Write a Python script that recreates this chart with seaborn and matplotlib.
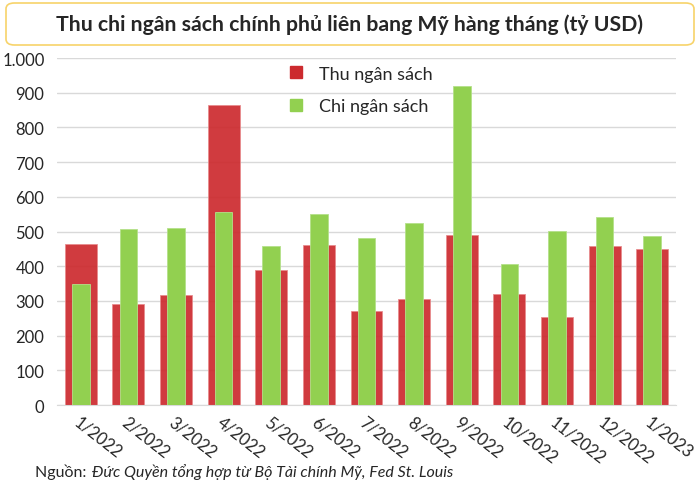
import numpy as np
import pandas as pd
import matplotlib
matplotlib.use("Agg")
import matplotlib.pyplot as plt
from matplotlib.patches import FancyBboxPatch
from matplotlib.lines import Line2D
import seaborn as sns

# Dữ liệu (tỷ USD)
months = ['1/2022', '2/2022', '3/2022', '4/2022', '5/2022', '6/2022', '7/2022',
          '8/2022', '9/2022', '10/2022', '11/2022', '12/2022', '1/2023']
thu = [464, 291, 317, 864, 390, 461, 271, 306, 489, 321, 254, 457, 450]
chi = [349, 507, 510, 556, 457, 551, 482, 524, 919, 406, 501, 542, 487]
yticks = [0, 100, 200, 300, 400, 500, 600, 700, 800, 900, 1000]

RED = '#cc2a2e'
GREEN = '#92d050'

sns.set_style("white")
plt.rcParams['font.family'] = ['Lato', 'DejaVu Sans']

df = pd.DataFrame({"thang": months, "thu": thu, "chi": chi})

fig = plt.figure(figsize=(7, 4.89), dpi=100)
ax = fig.add_axes([0.0814, 0.1697, 0.8843, 0.7096])

sns.barplot(data=df, x="thang", y="thu", color=RED, width=0.67, alpha=0.92,
            edgecolor='#e88a8c', linewidth=0.6, saturation=1, ax=ax, zorder=2)
sns.barplot(data=df, x="thang", y="chi", color=GREEN, width=0.37,
            edgecolor='#b4e08a', linewidth=0.6, saturation=1, ax=ax, zorder=3)

ax.set_xlim(-0.5, len(months) - 0.5)
ax.set_ylim(0, 1000)
ax.set_yticks(yticks)
ax.set_yticklabels([f"{v:,}".replace(",", ".") for v in yticks], fontsize=12)
ax.yaxis.grid(True, color='#d9d9d9', linewidth=1, zorder=0)
ax.set_axisbelow(True)
ax.tick_params(axis='y', length=0, pad=9)

# nhãn trục x nghiêng, vạch chia ở ranh giới giữa các tháng
ax.set_xticks(np.arange(len(months)))
ax.set_xticklabels(months, rotation=-38, ha='left', rotation_mode='anchor', fontsize=12)
ax.tick_params(axis='x', length=0, pad=6)
ax.set_xticks(np.arange(len(months) + 1) - 0.5, minor=True)
ax.tick_params(axis='x', which='minor', length=5, color='#d9d9d9', width=1)
ax.set_xlabel("")
ax.set_ylabel("")

for s in ['top', 'right', 'left']:
    ax.spines[s].set_visible(False)
ax.spines['bottom'].set_color('#d9d9d9')

handles = [Line2D([], [], marker='s', linestyle='none', markersize=8, color=RED),
           Line2D([], [], marker='s', linestyle='none', markersize=8, color=GREEN)]
ax.legend(handles, ['Thu ngân sách', 'Chi ngân sách'], loc='upper left',
          bbox_to_anchor=(0.33, 1.025), frameon=False, fontsize=13,
          handletextpad=0.3, labelspacing=0.9)

# khung tiêu đề
box = FancyBboxPatch((6 / 700, 1 - 46 / 489), 688 / 700, 42 / 489,
                     boxstyle="round,pad=0,rounding_size=0.012",
                     transform=fig.transFigure, facecolor='white',
                     edgecolor='#f7d36a', linewidth=1.2)
fig.patches.append(box)
fig.text(0.5, 1 - 25 / 489, "Thu chi ngân sách chính phủ liên bang Mỹ hàng tháng (tỷ USD)",
         ha='center', va='center', fontsize=15.3, fontweight='bold')

# nguồn
fig.text(35 / 700, 1 - 472 / 489, "Nguồn: ", ha='left', va='center', fontsize=11.5)
fig.text(92 / 700, 1 - 472 / 489, "Đức Quyền tổng hợp từ Bộ Tài chính Mỹ, Fed St. Louis",
         ha='left', va='center', fontsize=11.5, style='italic')

fig.savefig("out.png", dpi=100)
